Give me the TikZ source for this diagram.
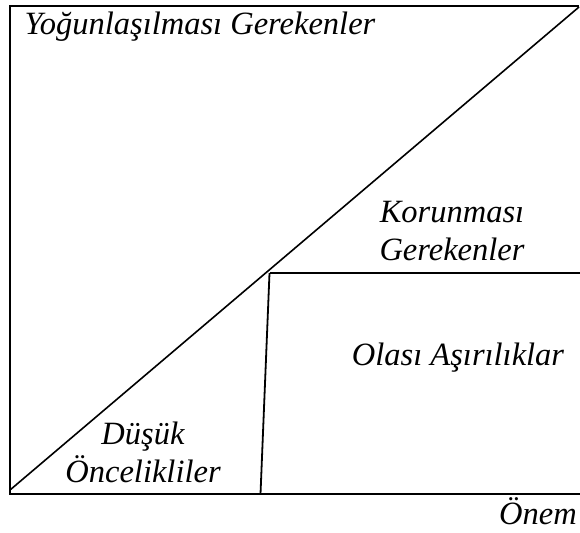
\documentclass[tikz,border=0pt]{standalone}
\usepackage{fontspec}
\setmainfont{Liberation Serif}
\begin{document}
\begin{tikzpicture}[x=1pt,y=-1pt,
  frame/.style={line width=2pt},
  lbl/.style={font=\fontsize{32.5}{38}\selectfont\itshape, inner sep=0pt, align=center}]
\useasboundingbox (0,0) rectangle (580,532);
\coordinate (tl) at (10,6);
\coordinate (tr) at (579,6);
\coordinate (bl) at (10,494);
\coordinate (br) at (580,494);
\coordinate (ds) at (10,490);
\coordinate (de) at (579,7);
\coordinate (j) at (269.5,273);
\coordinate (hr) at (580,273);
\coordinate (vb) at (260.5,494);
\draw[frame] (tr) -- (tl) -- (bl) -- (br);
\draw[line width=1.6pt] (ds) -- (de);
\draw[line width=1.8pt] (j) -- (hr);
\draw[line width=1.8pt] (j) -- (vb);
\node[lbl] (y) at (200,27) {Yoğunlaşılması Gerekenler};
\node[lbl] (k) at (452,231) {Korunması\\Gerekenler};
\node[lbl] (o) at (458,358) {Olası Aşırılıklar};
\node[lbl] (d) at (143,452) {Düşük\\Öncelikliler};
\node[lbl] (n) at (538,511) {Önem};
\end{tikzpicture}
\end{document}
